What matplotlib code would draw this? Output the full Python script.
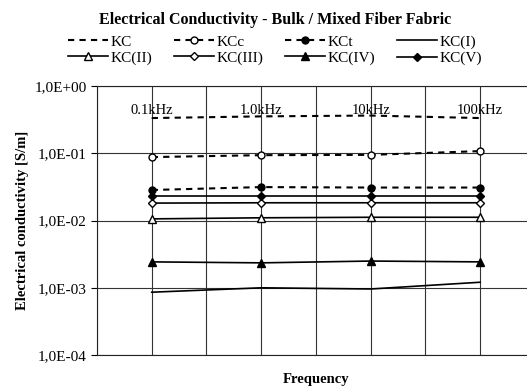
#import
import matplotlib.pyplot as plt
from matplotlib.ticker import FixedLocator, FuncFormatter

plt.rcParams['font.family'] = ['Liberation Serif', 'DejaVu Serif']

#data
freq = ["0.1kHz", "1.0kHz", "10kHz", "100kHz"]
kc = [0.335, 0.355, 0.365, 0.335]
kcc = [0.088, 0.094, 0.095, 0.108]
kct = [0.0285, 0.0315, 0.031, 0.031]
kc_1 = [0.00086, 0.00100, 0.00096, 0.00121]
kc_2 = [0.0106, 0.0110, 0.0112, 0.0112]
kc_3 = [0.0182, 0.0184, 0.0184, 0.0184]
kc_4 = [0.00243, 0.00235, 0.00250, 0.00243]
kc_5 = [0.0232, 0.0232, 0.0232, 0.0232]

x = list(range(len(freq)))

#plotting
fig = plt.figure(figsize=(5.27, 3.88), dpi=100)
ax = fig.add_axes([0.184, 0.085, 0.831, 0.693])

dash = (3, 2.5)
ax.plot(x, kc, 'k--', lw=1.5, dashes=dash, label="KC")
ax.plot(x, kcc, 'k--', lw=1.5, dashes=dash, marker='o', mfc='white', ms=5, label="KCc")
ax.plot(x, kct, 'k--', lw=1.5, dashes=dash, marker='o', mfc='black', ms=5, label="KCt")
ax.plot(x, kc_1, 'k-', lw=1.2, label="KC(I)")
ax.plot(x, kc_2, 'k-', lw=1.2, marker='^', mfc='white', ms=5.5, label="KC(II)")
ax.plot(x, kc_3, 'k-', lw=1.2, marker='D', mfc='white', ms=4, label="KC(III)")
ax.plot(x, kc_4, 'k-', lw=1.2, marker='^', mfc='black', ms=5.5, label="KC(IV)")
ax.plot(x, kc_5, 'k-', lw=1.2, marker='D', mfc='black', ms=4, label="KC(V)")

#frequency labels inside the plot
for i, f in enumerate(freq):
    ax.text(i, 0.43, f, ha='center', va='center', fontsize=10.5)

ax.set_yscale('log')
ax.set_ylim(1e-4, 1)
ax.set_xlim(-0.5, 3.5)

ax.yaxis.set_major_locator(FixedLocator([1e-4, 1e-3, 1e-2, 1e-1, 1]))
ax.yaxis.set_minor_locator(FixedLocator([]))
ax.yaxis.set_major_formatter(FuncFormatter(lambda v, p: ("%.1E" % v).replace('.', ',')))
ax.tick_params(axis='y', direction='out', length=4, labelsize=11, width=0.8)

ax.xaxis.set_major_locator(FixedLocator(x))
ax.xaxis.set_minor_locator(FixedLocator([-0.5, 0.5, 1.5, 2.5, 3.5]))
ax.tick_params(axis='x', which='both', length=0, labelbottom=False)

ax.grid(True, which='major', axis='both', color='#333333', lw=0.8)
ax.grid(True, which='minor', axis='x', color='#333333', lw=0.8)
ax.set_axisbelow(True)
for s in ax.spines.values():
    s.set_color('#222222')

#Adding Labels
ax.set_xlabel("Frequency", fontweight='bold', fontsize=10.5, labelpad=13)
ax.set_ylabel("Electrical conductivity [S/m]", fontweight='bold', fontsize=10.5)

#adding Title
fig.text(0.522, 0.948, "Electrical Conductivity - Bulk / Mixed Fiber Fabric",
         ha='center', va='center', fontweight='bold', fontsize=11.5)

#legend filled row by row
h, l = ax.get_legend_handles_labels()
order = [0, 4, 1, 5, 2, 6, 3, 7]
fig.legend([h[i] for i in order], [l[i] for i in order],
           loc='center', bbox_to_anchor=(0.522, 0.871), ncol=4, frameon=False,
           fontsize=11, handlelength=2.6, columnspacing=1.4, handletextpad=0.2,
           labelspacing=0.15)

#saving graph
fig.savefig("out.png", dpi=100)
